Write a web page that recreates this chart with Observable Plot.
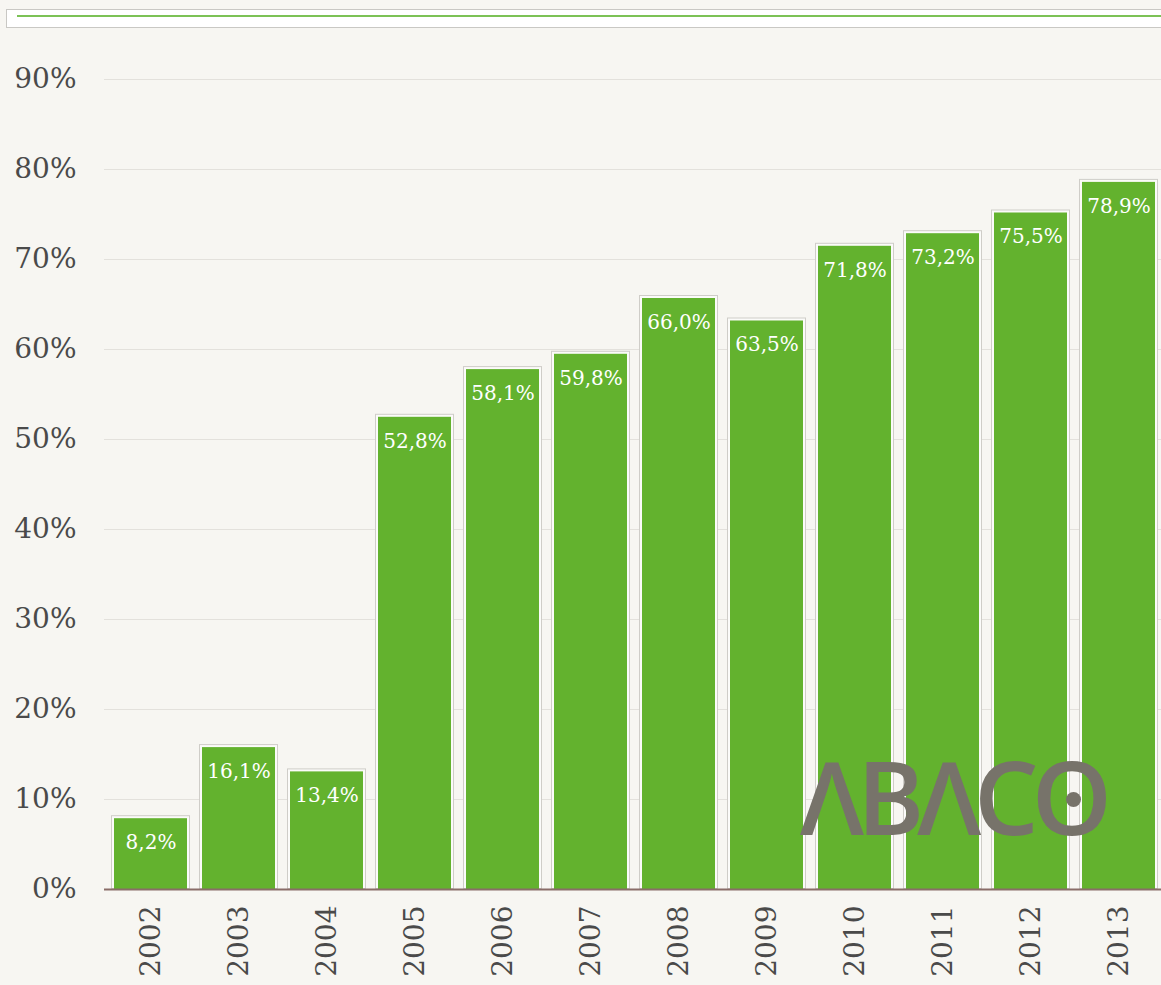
<!DOCTYPE html>
<html><head><meta charset="utf-8">
<script src="https://cdn.jsdelivr.net/npm/d3@7"></script>
<script src="https://cdn.jsdelivr.net/npm/@observablehq/plot@0.6"></script>
<style>
html,body{margin:0;padding:0;background:#f7f6f2;overflow:hidden;width:1161px;height:985px;}
#wrap{position:relative;width:1161px;height:985px;overflow:hidden;}
#slider{position:absolute;left:6px;top:9px;width:1170px;height:19px;background:#fff;border:1px solid #c9c8c4;box-sizing:border-box;}
#slider div{position:absolute;left:10px;right:0;top:5px;height:2px;background:#7cc256;}
#logo{position:absolute;left:800px;top:745px;font-family:"Open Sans";font-weight:600;font-size:102px;color:#77736a;letter-spacing:-7px;line-height:1;}
#dot{position:absolute;left:1066px;top:792px;width:15px;height:15px;border-radius:50%;background:#77736a;}
#chart{position:absolute;left:0;top:0;width:1166px;}
#chart svg{max-width:none !important;}
</style></head>
<body><div id="wrap"><div id="chart"></div><div id="slider"><div></div></div><div id="logo">ΛBΛCO</div><div id="dot"></div></div>
<script>
const years = ["2002","2003","2004","2005","2006","2007","2008","2009","2010","2011","2012","2013"];
const values = [8.2, 16.1, 13.4, 52.8, 58.1, 59.8, 66.0, 63.5, 71.8, 73.2, 75.5, 78.9];
const yTicks = [0,10,20,30,40,50,60,70,80,90];

const data = years.map((y,i)=>({year:y, value:values[i]}));
const fmt = v => v.toFixed(1).replace(".", ",") + "%";

const plot = Plot.plot({
  width: 1166,
  height: 985,
  marginLeft: 104,
  marginRight: 0,
  marginTop: 79,
  marginBottom: 96,
  style: {background:"#f7f6f2", fontFamily:"DejaVu Serif", fontSize:"28px", color:"#4a4a4a", maxWidth:"none"},
  x: {domain: years, paddingInner: 0.1, paddingOuter: 0.05, label: null, tickSize: 0, tickRotate: -90, tickPadding: 16},
  y: {domain: [0, 90], ticks: yTicks, tickFormat: d => d + "%", label: null, tickSize: 0, tickPadding: 28},
  marks: [
    Plot.gridY(yTicks, {stroke:"#e3e1dc", strokeOpacity:1, strokeWidth:1}),
    Plot.barY(data, {x:"year", y:"value", fill:"#cfcdc8"}),
    Plot.barY(data, {x:"year", y:"value", fill:"#fbfbf9", inset:1}),
    Plot.barY(data, {x:"year", y:"value", fill:"#63b22e", insetLeft:3, insetRight:3, insetTop:3}),
    Plot.ruleY([0], {stroke:"#8a6d68", strokeWidth:2}),
    Plot.text(data, {x:"year", y:"value", text: d => fmt(d.value), dy:27, fill:"#ffffff", fontSize:20, lineAnchor:"middle"})
  ]
});
document.getElementById("chart").appendChild(plot);
</script></body></html>
